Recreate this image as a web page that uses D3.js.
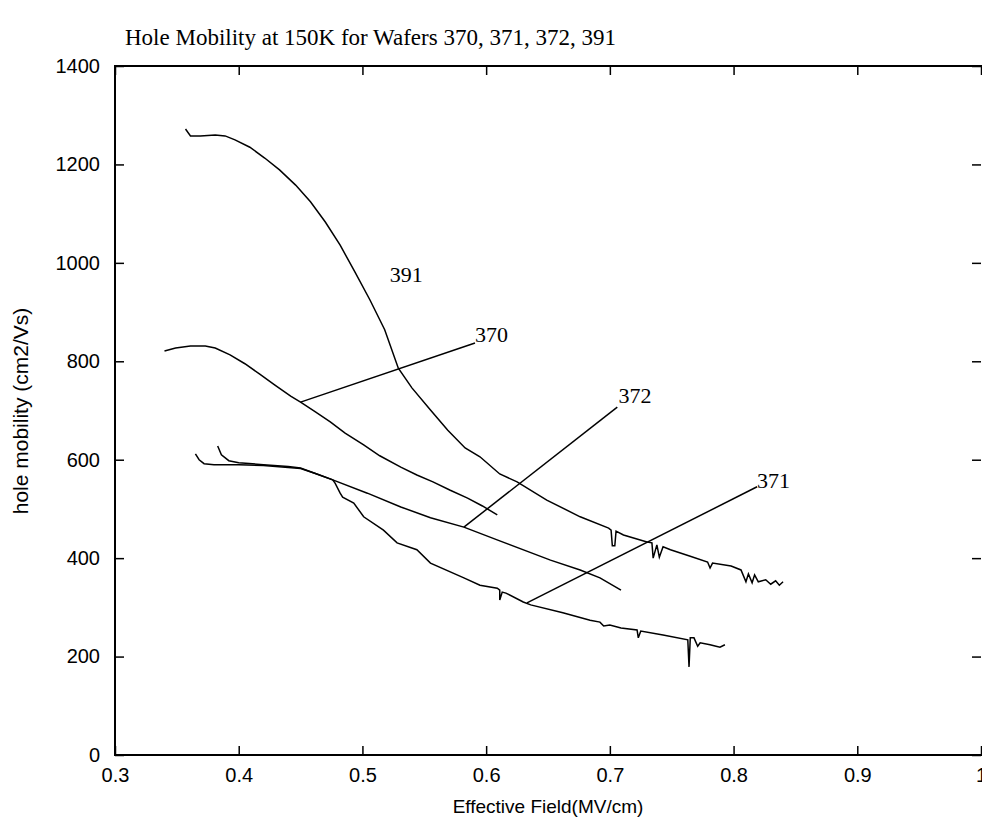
<!DOCTYPE html>
<html>
<head>
<meta charset="utf-8">
<script src="https://cdn.jsdelivr.net/npm/d3@7"></script>
<style>
    body { margin: 0; background: #fff; }
    svg { display: block; }
    .tick text { font-family: "Liberation Sans", Arial, sans-serif; font-size: 20px; fill: #000; }
    .domain { display: none; }
    .tick line { stroke: #000; stroke-width: 1.5; }
</style>
</head>
<body>
<svg width="982" height="822"></svg>
<script>
//Tick values
const xTicks = [0.3, 0.4, 0.5, 0.6, 0.7, 0.8, 0.9, 1.0];
const yTicks = [0, 200, 400, 600, 800, 1000, 1200, 1400];

//Wafer curves: [field MV/cm, mobility cm2/Vs]
const wafer391 = [
    [0.357, 1272], [0.361, 1258], [0.369, 1258], [0.381, 1260], [0.389, 1258], [0.397, 1250],
    [0.409, 1235], [0.421, 1213], [0.433, 1189], [0.446, 1158], [0.458, 1124], [0.470, 1083],
    [0.482, 1036], [0.494, 981], [0.506, 925], [0.518, 864], [0.529, 786], [0.540, 746],
    [0.555, 701], [0.569, 660], [0.583, 624], [0.595, 606], [0.611, 571], [0.625, 555],
    [0.649, 518], [0.676, 484], [0.699, 461], [0.701, 457], [0.702, 425], [0.704, 425],
    [0.705, 455], [0.711, 447], [0.730, 433], [0.734, 431], [0.735, 400], [0.738, 427],
    [0.740, 402], [0.743, 423], [0.749, 417], [0.765, 404], [0.779, 392], [0.781, 380],
    [0.783, 390], [0.798, 384], [0.806, 376], [0.810, 352], [0.812, 368], [0.815, 350],
    [0.817, 366], [0.820, 352], [0.826, 356], [0.830, 347], [0.834, 354], [0.837, 345],
    [0.840, 352]
];
const wafer370 = [
    [0.340, 821], [0.349, 827], [0.361, 831], [0.373, 831], [0.381, 827], [0.393, 813],
    [0.405, 795], [0.417, 774], [0.429, 752], [0.442, 729], [0.450, 717], [0.462, 697],
    [0.474, 677], [0.486, 654], [0.501, 630], [0.514, 608], [0.531, 585], [0.544, 569],
    [0.557, 555], [0.571, 538], [0.585, 522], [0.597, 506], [0.609, 488]
];
const wafer372 = [
    [0.383, 628], [0.386, 610], [0.392, 598], [0.400, 594], [0.420, 590], [0.440, 586],
    [0.450, 583], [0.462, 572], [0.476, 559], [0.504, 532], [0.531, 504], [0.555, 482],
    [0.582, 463], [0.611, 435], [0.652, 396], [0.676, 376], [0.692, 360], [0.709, 335]
];
const wafer371 = [
    [0.365, 612], [0.368, 600], [0.372, 592], [0.380, 590], [0.400, 590], [0.420, 588],
    [0.440, 584], [0.450, 582], [0.462, 572], [0.476, 559], [0.478, 552], [0.482, 532],
    [0.484, 524], [0.493, 512], [0.501, 484], [0.517, 457], [0.528, 431], [0.544, 417],
    [0.555, 390], [0.582, 360], [0.595, 345], [0.609, 339], [0.611, 335], [0.611, 315],
    [0.613, 331], [0.616, 329], [0.630, 311], [0.636, 305], [0.662, 289], [0.684, 274],
    [0.692, 270], [0.695, 262], [0.700, 264], [0.709, 258], [0.722, 254], [0.723, 238],
    [0.725, 252], [0.743, 244], [0.763, 234], [0.764, 179], [0.765, 238], [0.768, 238],
    [0.771, 221], [0.773, 228], [0.781, 224], [0.789, 219], [0.793, 224]
];

//Curve labels: text, text anchor point, leader line start (on the curve)
const labelNames = ["391", "370", "372", "371"];
const labelPoints = [[0.522, 961], [0.591, 839], [0.707, 715], [0.819, 543]];
const leaderStarts = [null, [0.450, 717], [0.582, 463], [0.633, 309]];
const leaderEnds = [null, [0.591, 837], [0.706, 707], [0.819, 545]];

//Measuring data (in px)
let plotLeft = 115, plotTop = 66, plotRight = 981, plotBottom = 755;

const svg = d3.select("svg");

let xScale = d3.scaleLinear().domain([0.3, 1.0]).range([plotLeft, plotRight]);
let yScale = d3.scaleLinear().domain([0, 1400]).range([plotBottom, plotTop]);

//Title
svg.append("text")
    .attr("x", 125).attr("y", 45)
    .style("font-family", "'Liberation Serif', 'Times New Roman', serif")
    .style("font-size", "23px")
    .text("Hole Mobility at 150K for Wafers 370, 371, 372, 391");

//Box
svg.append("rect")
    .attr("x", plotLeft).attr("y", plotTop)
    .attr("width", plotRight - plotLeft + 4).attr("height", plotBottom - plotTop)
    .attr("fill", "none").attr("stroke", "#000").attr("stroke-width", 2);

//Axes with inward ticks
svg.append("g")
    .attr("transform", `translate(0, ${plotBottom})`)
    .call(d3.axisBottom(xScale).tickValues(xTicks).tickFormat(d3.format("~g"))
        .tickSizeInner(-9).tickSizeOuter(0).tickPadding(13));
svg.append("g")
    .attr("transform", `translate(0, ${plotTop})`)
    .call(d3.axisTop(xScale).tickValues(xTicks).tickFormat("")
        .tickSizeInner(-9).tickSizeOuter(0));
svg.append("g")
    .attr("transform", `translate(${plotLeft}, 0)`)
    .call(d3.axisLeft(yScale).tickValues(yTicks).tickFormat(d3.format("d"))
        .tickSizeInner(-9).tickSizeOuter(0).tickPadding(15));
svg.append("g")
    .attr("transform", `translate(${plotRight}, 0)`)
    .call(d3.axisRight(yScale).tickValues(yTicks).tickFormat("")
        .tickSizeInner(-9).tickSizeOuter(0));

//Axis titles
svg.append("text")
    .attr("x", 548).attr("y", 813)
    .attr("text-anchor", "middle")
    .style("font-family", "'Liberation Sans', Arial, sans-serif")
    .style("font-size", "19px")
    .text("Effective Field(MV/cm)");
svg.append("text")
    .attr("transform", "translate(28, 411) rotate(-90)")
    .attr("text-anchor", "middle")
    .style("font-family", "'Liberation Sans', Arial, sans-serif")
    .style("font-size", "21px")
    .text("hole mobility (cm2/Vs)");

//Curves
const line = d3.line().x((d) => xScale(d[0])).y((d) => yScale(d[1]));
[wafer391, wafer370, wafer372, wafer371].forEach((series) => {
    svg.append("path")
        .datum(series)
        .attr("d", line)
        .attr("fill", "none")
        .attr("stroke", "#000")
        .attr("stroke-width", 1.5);
});

//Leader lines and labels
labelNames.forEach((name, i) => {
    if (leaderStarts[i]) {
        svg.append("line")
            .attr("x1", xScale(leaderStarts[i][0])).attr("y1", yScale(leaderStarts[i][1]))
            .attr("x2", xScale(leaderEnds[i][0])).attr("y2", yScale(leaderEnds[i][1]))
            .attr("stroke", "#000").attr("stroke-width", 1.5);
    }
    svg.append("text")
        .attr("x", xScale(labelPoints[i][0]))
        .attr("y", yScale(labelPoints[i][1]))
        .style("font-family", "'Liberation Serif', 'Times New Roman', serif")
        .style("font-size", "22px")
        .text(name);
});
</script>
</body>
</html>
